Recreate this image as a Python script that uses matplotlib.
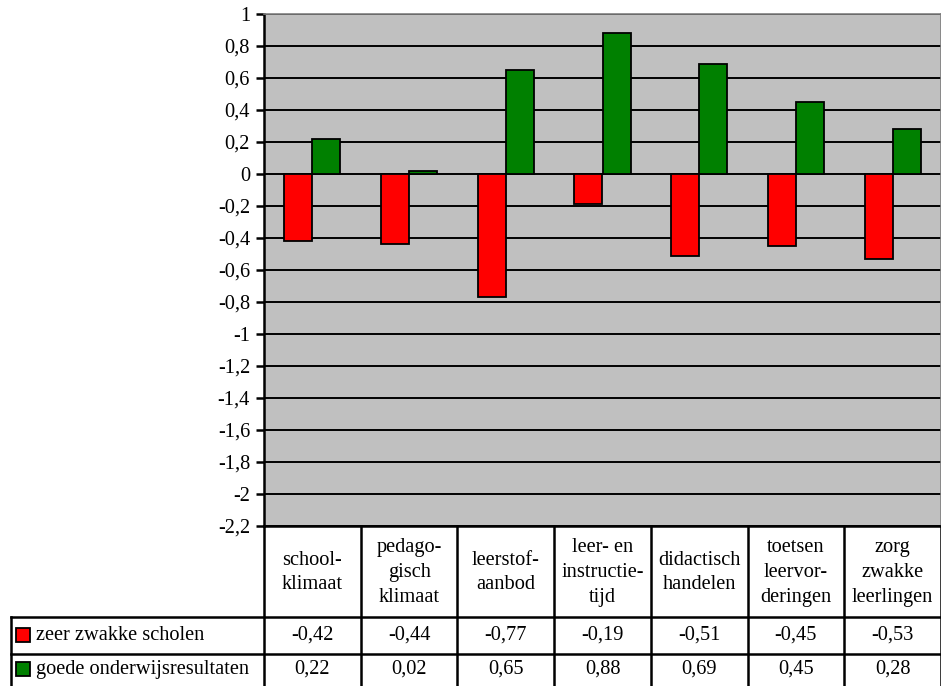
import matplotlib
matplotlib.use("Agg")
import matplotlib.pyplot as plt
from matplotlib.patches import Rectangle
import numpy as np

categories = ["school-\nklimaat", "pedago-\ngisch\nklimaat", "leerstof-\naanbod",
              "leer- en\ninstructie-\ntijd", "didactisch\nhandelen",
              "toetsen\nleervor-\nderingen", "zorg\nzwakke\nleerlingen"]
series_names = ["zeer zwakke scholen", "goede onderwijsresultaten"]
zwak = [-0.42, -0.44, -0.77, -0.19, -0.51, -0.45, -0.53]
goed = [0.22, 0.02, 0.65, 0.88, 0.69, 0.45, 0.28]
yticks = [1, 0.8, 0.6, 0.4, 0.2, 0, -0.2, -0.4, -0.6, -0.8, -1, -1.2, -1.4,
          -1.6, -1.8, -2, -2.2]
colors = ["#FF0000", "#008000"]

plt.rcParams['font.family'] = ['Liberation Serif', 'DejaVu Serif']
FS = 14.7

W, H = 941, 686
fig = plt.figure(figsize=(W / 100, H / 100), dpi=100)

def fx(px):
    return px / W

def fy(py):
    return 1 - py / H

L, R, T, B = 264, 941, 14, 526
ax = fig.add_axes([fx(L), fy(B), fx(R - L), (B - T) / H])
ax.set_facecolor("#C0C0C0")
x = np.arange(len(categories))
bw = 0.29
ax.bar(x - bw / 2, zwak, bw, color=colors[0], edgecolor="black", linewidth=1.3, zorder=3)
ax.bar(x + bw / 2, goed, bw, color=colors[1], edgecolor="black", linewidth=1.3, zorder=3)
ax.set_xlim(-0.5, len(categories) - 0.5)
ax.set_ylim(-2.2, 1)
ax.set_yticks(yticks)
ax.set_yticklabels([("%g" % v).replace(".", ",") for v in yticks], fontsize=FS)
ax.set_xticks([])
for v in yticks:
    ax.axhline(v, color="black", linewidth=1.4, zorder=1)
ax.spines['left'].set_linewidth(1.8)
ax.spines['left'].set_color('black')
ax.spines['bottom'].set_linewidth(1.8)
ax.spines['bottom'].set_color('black')
ax.spines['top'].set_color('#808080')
ax.spines['right'].set_color('#808080')
ax.spines['top'].set_linewidth(1.2)
ax.spines['right'].set_linewidth(1.2)
ax.tick_params(axis='y', direction='out', length=6, width=1.8, pad=4, colors='black')

# table axes: x in category data units, y in pixels (top-down)
TL = 11
ppu = (R - L) / len(categories)
xmin = -0.5 - (L - TL) / ppu
tax = fig.add_axes([fx(TL), 0, fx(R - TL), (H - B) / H])
tax.set_xlim(xmin, len(categories) - 0.5)
tax.set_ylim(H, B)
tax.axis('off')

hdr_top, hdr_bot, r1_bot, r2_bot = B, 617, 654, 691
lw = 1.8
for b in np.arange(len(categories) + 1) - 0.5:
    tax.plot([b, b], [hdr_top, r2_bot], color='black', lw=lw, clip_on=False)
tax.plot([xmin, xmin], [hdr_bot, r2_bot], color='black', lw=lw, clip_on=False)
for yy in [hdr_bot, r1_bot]:
    tax.plot([xmin, len(categories) - 0.5], [yy, yy], color='black', lw=lw, clip_on=False)

for i, c in enumerate(categories):
    tax.text(i, (hdr_top + hdr_bot) / 2 + 1, c, ha='center', va='center',
             fontsize=FS, linespacing=1.42)
fmt = lambda v: ("%.2f" % v).replace(".", ",")
rows = [zwak, goed]
rys = [(hdr_bot + r1_bot) / 2, (r1_bot + r2_bot) / 2 - 3]
for r, (vals, yy) in enumerate(zip(rows, rys)):
    for i, v in enumerate(vals):
        tax.text(i, yy, fmt(v), ha='center', va='center', fontsize=FS)
    kx = xmin + 5 / ppu
    tax.add_patch(Rectangle((kx, yy - 7), 14 / ppu, 14, facecolor=colors[r],
                            edgecolor='black', lw=1.3, clip_on=False))
    tax.text(xmin + 25 / ppu, yy, series_names[r], ha='left', va='center', fontsize=FS)

fig.savefig("out.png", dpi=100)
